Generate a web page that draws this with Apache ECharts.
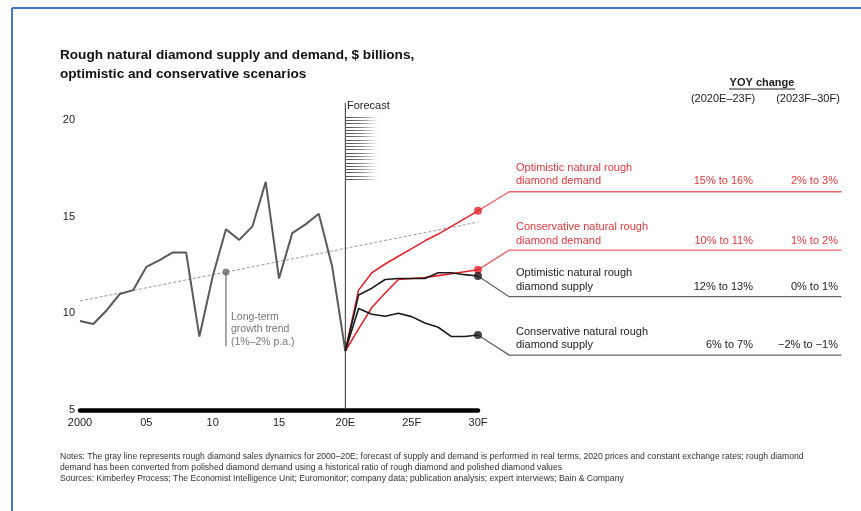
<!DOCTYPE html>
<html>
<head>
<meta charset="utf-8">
<script src="https://cdn.jsdelivr.net/npm/echarts@6/dist/echarts.min.js"></script>
<style>
html,body{margin:0;padding:0;background:#fff;}
#c{width:861px;height:511px;}
</style>
</head>
<body>
<div id="c"></div>
<script>
// ---------- data ----------
const histYears = [2000,2001,2002,2003,2004,2005,2006,2007,2008,2009,2010,2011,2012,2013,2014,2015,2016,2017,2018,2019,2020];
const histValues = [9.6,9.45,10.15,11.0,11.2,12.4,12.75,13.15,13.15,8.8,11.9,14.35,13.8,14.5,16.8,11.8,14.15,14.6,15.15,12.45,8.05];

const fcYears = [2020,2021,2022,2023,2024,2025,2026,2027,2028,2029,2030];
const optDemand  = [8.05,11.2,12.1,12.55,12.95,13.35,13.75,14.1,14.5,14.9,15.3];
const consDemand = [8.05,9.2,10.3,11.05,11.75,11.8,11.85,11.95,12.05,12.15,12.25];
const optSupply  = [8.05,10.95,11.3,11.75,11.8,11.8,11.8,12.1,12.1,12.0,11.93];
const consSupply = [8.05,10.25,9.95,9.85,10.0,9.83,9.5,9.28,8.8,8.8,8.88];

const trendYears = [2000,2030];
const trendValues = [10.64,14.72];
const trendMarkYear = 2011;
const trendMarkValue = 12.14;
const trendMarkBottom = 8.3;

const xTickValues = [2000,2005,2010,2015,2020,2025,2030];
const xTickLabels = ['2000','05','10','15','20E','25F','30F'];
const yTickValues = [5,10,15,20];

const rowNames = [
  'Optimistic natural rough\ndiamond demand',
  'Conservative natural rough\ndiamond demand',
  'Optimistic natural rough\ndiamond supply',
  'Conservative natural rough\ndiamond supply'
];
const rowChange1 = ['15% to 16%','10% to 11%','12% to 13%','6% to 7%'];
const rowChange2 = ['2% to 3%','1% to 2%','0% to 1%','\u22122% to \u22121%'];
const rowUnderline = [16.29,13.27,10.86,7.84]; // value-level of each row's underline
const headerTitle = 'YOY change';
const headerCols = ['(2020E\u201323F)','(2023F\u201330F)'];

const titleText = 'Rough natural diamond supply and demand, $ billions,\noptimistic and conservative scenarios';
const notesLines = [
  'Notes: The gray line represents rough diamond sales dynamics for 2000\u201320E; forecast of supply and demand is performed in real terms, 2020 prices and constant exchange rates; rough diamond',
  'demand has been converted from polished diamond demand using a historical ratio of rough diamond and polished diamond values',
  'Sources: Kimberley Process; The Economist Intelligence Unit; Euromonitor; company data; publication analysis; expert interviews; Bain & Company'
];

// ---------- styles ----------
const RED = '#E3262D';
const RED_TXT = '#E0393E';
const BLK = '#1a1a1a';
const GRAY = '#5a5a5a';
const FONT = 'Liberation Sans, Arial, sans-serif';

const pairs = (xs, ys) => xs.map((x,i)=>[x, ys[i]]);
const fcSeries = [
  {vals: optDemand, color: RED, conn:'#E8666A'},
  {vals: consDemand, color: RED, conn:'#E8666A'},
  {vals: optSupply, color: BLK, conn:'#666'},
  {vals: consSupply, color: BLK, conn:'#666'}
];
const CORNER_X = 2032.35, END_X = 2057.4;

const chart = echarts.init(document.getElementById('c'), null, {renderer:'canvas'});

const series = [];
series.push({type:'line', data: pairs(histYears, histValues), symbol:'none',
  lineStyle:{color:GRAY, width:2}, z:3});
series.push({type:'line', data: pairs(trendYears, trendValues), symbol:'none',
  lineStyle:{color:'#9a9a9a', width:1, type:[3,2]}, z:2});
series.push({type:'line', data: [[trendMarkYear,trendMarkValue],[trendMarkYear,trendMarkBottom]], symbol:'none',
  lineStyle:{color:'#8a8a8a', width:1.5}, z:2});
series.push({type:'scatter', data: [[trendMarkYear,trendMarkValue]], symbol:'circle', symbolSize:7,
  itemStyle:{color:'#666'}, z:4});
series.push({type:'line', data: [[2020,5],[2020,20.88]], symbol:'none', clip:false,
  lineStyle:{color:'#333', width:1}, z:5});
series.push({type:'custom', clip:false, data:[[2020,16.95,2022.7,20.17]], z:1,
  renderItem: function(params, api){
    const p0 = api.coord([api.value(0), api.value(1)]);
    const p1 = api.coord([api.value(2), api.value(3)]);
    const n = 20;
    const children = [];
    for (let i=0;i<n;i++){
      const y = Math.round(p1[1] + (p0[1]-p1[1]) * i/(n-1)) + 0.5;
      children.push({type:'line', shape:{x1:p0[0]+1, y1:y, x2:p1[0], y2:y},
        style:{lineWidth:1, stroke:{type:'linear', x:p0[0], y:0, x2:p1[0], y2:0, global:true,
          colorStops:[{offset:0,color:'#444'},{offset:0.45,color:'#888'},{offset:1,color:'rgba(255,255,255,0)'}]}}});
    }
    return {type:'group', children};
  }});
fcSeries.forEach((s) => {
  series.push({type:'line', data: pairs(fcYears, s.vals), symbol:'none',
    lineStyle:{color:s.color, width:1.6}, z:6});
  series.push({type:'scatter', data:[[2030, s.vals[s.vals.length-1]]], symbol:'circle', symbolSize:8,
    itemStyle:{color:s.color}, z:7});
});

const graphics = [];
graphics.push({type:'line', shape:{x1:12, y1:8, x2:861, y2:8}, style:{stroke:'#4A72C8', lineWidth:2}});
graphics.push({type:'line', shape:{x1:12, y1:8, x2:12, y2:511}, style:{stroke:'#4A72C8', lineWidth:2}});

function txt(text, x, y, opts){
  return {type:'text', x:x, y:y, style:Object.assign({text:text, font:'11px '+FONT, fill:'#222',
    textAlign:'left', textVerticalAlign:'middle', align:'left', verticalAlign:'middle'}, opts||{})};
}
graphics.push(txt(headerTitle, 762, 83, {font:'bold 11px '+FONT, textAlign:'center', align:'center'}));
graphics.push({type:'line', shape:{x1:729, y1:89, x2:795, y2:89}, style:{stroke:'#222', lineWidth:1}});
graphics.push(txt(headerCols[0], 723, 99, {textAlign:'center', align:'center'}));
graphics.push(txt(headerCols[1], 808, 99, {textAlign:'center', align:'center'}));
const rowY = [174.5, 234, 280, 338.5];
rowNames.forEach((n,i)=>{
  const col = i<2 ? RED_TXT : '#222';
  graphics.push(txt(n, 516, rowY[i], {fill:col, lineHeight:13.5}));
  graphics.push(txt(rowChange1[i], 753, rowY[i]+6.5, {fill:col, textAlign:'right', align:'right'}));
  graphics.push(txt(rowChange2[i], 838, rowY[i]+6.5, {fill:col, textAlign:'right', align:'right'}));
});
graphics.push(txt('Forecast', 347, 106, {fill:'#222'}));
graphics.push(txt('Long-term\ngrowth trend\n(1%\u20132% p.a.)', 231, 329.5, {fill:'#777', lineHeight:12.7, font:'10.5px '+FONT}));
notesLines.forEach((l,i)=>{
  graphics.push(txt(l, 60, 457 + i*10.7, {font:'8.65px '+FONT, fill:'#333'}));
});

const option = {
  backgroundColor:'#fff',
  animation:false,
  title:{text:titleText, left:55, top:41, textStyle:{fontFamily:FONT, fontSize:13.6, fontWeight:'bold', color:'#111', lineHeight:19}},
  grid:{left:80, right:383, top:120, bottom:101, containLabel:false},
  xAxis:{type:'value', min:2000, max:2030, interval:5,
    axisLine:{show:true, onZero:false, lineStyle:{color:'#000', width:4.5}},
    axisTick:{show:false}, splitLine:{show:false},
    axisLabel:{fontFamily:FONT, fontSize:11, color:'#222', margin:7,
      formatter: v => { const k = xTickValues.indexOf(v); return k>=0 ? xTickLabels[k] : ''; }}},
  yAxis:{type:'value', min:5, max:20, interval:5,
    axisLine:{show:false}, axisTick:{show:false}, splitLine:{show:false},
    axisLabel:{fontFamily:FONT, fontSize:11, color:'#222', margin:5,
      formatter: v => yTickValues.indexOf(v)>=0 ? String(v) : ''}},
  series: series,
  graphic: graphics
};
chart.setOption(option);

// connectors: from each series' end point to its row underline, placed through the chart's own scales
fcSeries.forEach((s, i) => {
  const last = s.vals[s.vals.length-1];
  const pts = [[2030,last],[CORNER_X,rowUnderline[i]],[END_X,rowUnderline[i]]]
    .map(p => chart.convertToPixel({gridIndex:0}, p));
  graphics.push({type:'polyline', z:5, shape:{points:pts, smooth:0}, style:{stroke:s.conn, lineWidth:1.3, fill:null, lineJoin:'round'}});
});
chart.setOption({graphic: graphics});
</script>
</body>
</html>
